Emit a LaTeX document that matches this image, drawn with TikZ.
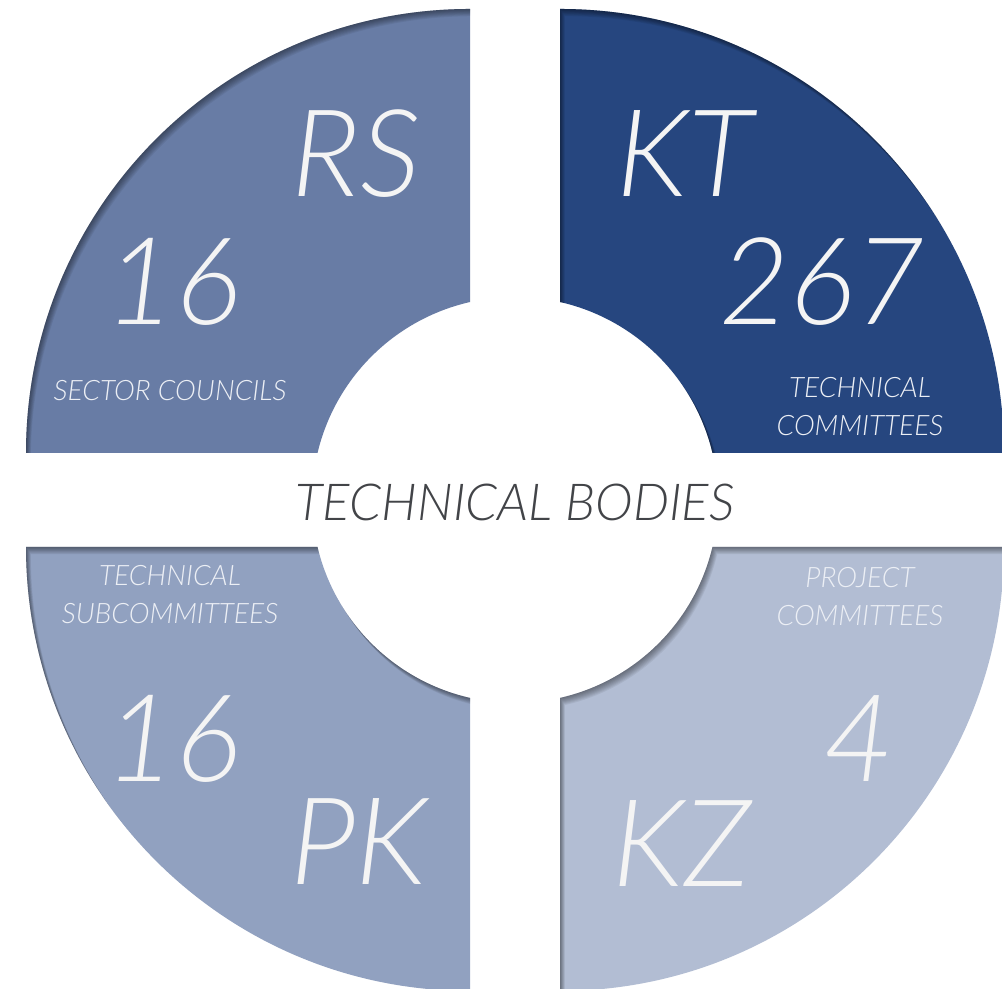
\documentclass[tikz,border=0pt]{standalone}
\usepackage{fontspec}
\usepackage{tikz}
\newfontfamily\lato{Lato Light}[ItalicFont={Lato Light Italic}]
\definecolor{segrs}{HTML}{687CA5}
\definecolor{segkt}{HTML}{26467F}
\definecolor{segpk}{HTML}{91A1C0}
\definecolor{segkz}{HTML}{B2BDD3}
\definecolor{bigtxt}{HTML}{F4F4F4}
\definecolor{smalltxt}{HTML}{ECEFF5}
\definecolor{midtxt}{HTML}{424448}
\tikzset{bignum/.style = {text = bigtxt, inner sep = 0, anchor = base,
    font = \lato\itshape\fontsize{34.5}{40}\selectfont}}
\tikzset{caption/.style = {text = smalltxt, inner sep = 0, align = center,
    font = \lato\itshape\fontsize{8.0}{10.8}\selectfont}}
\tikzset{inshadow/.style = {black, opacity = 0.06, even odd rule}}
% ring segments, hole centre (515,489), r = 203, outer r = 444
\newcommand{\segRS}{(26,536) arc (180:90:444) -- (470,686.95) arc (102.81:166.61:203) -- cycle}
\newcommand{\segKT}{(1004,536) arc (0:90:444) -- (560,686.95) arc (77.19:13.39:203) -- cycle}
\newcommand{\segPK}{(26,442) arc (180:270:444) -- (470,291.05) arc (257.19:193.39:203) -- cycle}
\newcommand{\segKZ}{(1004,442) arc (0:-90:444) -- (560,291.05) arc (-77.19:-13.39:203) -- cycle}

\begin{document}
\begin{tikzpicture}[x = 0.01cm, y = 0.01cm]
      \useasboundingbox (0, 0) rectangle (1002, 989);
      \fill [white] (0, 0) rectangle (1002, 989);

      \fill [segrs] \segRS;
      \fill [segkt] \segKT;
      \fill [segpk] \segPK;
      \fill [segkz] \segKZ;

      \foreach \seg in {\segRS, \segKT, \segPK, \segKZ} {
        \begin{scope}
          \clip \seg;
          \foreach \k in {1,...,8}
            \fill [inshadow, shift = {(0.6*\k, -0.9*\k)}] (-100, -100) rectangle (1100, 1100) \seg;
        \end{scope}
      }

      \node [bignum] (rs) at (356, 792) {RS};
      \node [bignum] (rsnum) at (173, 664) {16};
      \node [caption, anchor = base] (rscap) at (170, 588) {SECTOR COUNCILS};

      \node [bignum] (kt) at (685, 792) {KT};
      \node [bignum] (ktnum) at (822, 664) {267};
      \node [caption] (ktcap) at (860, 582) {TECHNICAL\\COMMITTEES};

      \node [caption] (pkcap) at (170, 394) {TECHNICAL\\SUBCOMMITTEES};
      \node [bignum] (pknum) at (173, 207) {16};
      \node [bignum] (pk) at (359, 104) {PK};

      \node [caption] (kzcap) at (860, 392) {PROJECT\\COMMITTEES};
      \node [bignum] (kznum) at (859, 207) {4};
      \node [bignum] (kz) at (682, 102) {KZ};

      \node [text = midtxt, inner sep = 0, anchor = base,
        font = \lato\itshape\fontsize{14.5}{18}\selectfont] (bodies) at (515, 468) {TECHNICAL BODIES};
    \end{tikzpicture}
\end{document}
